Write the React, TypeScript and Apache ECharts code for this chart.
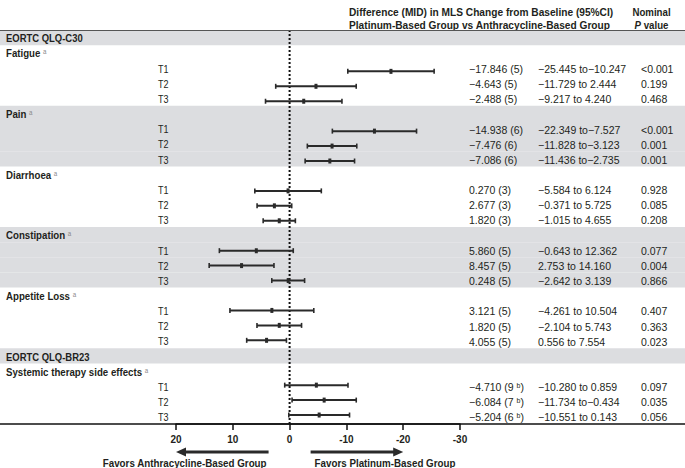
import { useEffect, useRef } from "react";
import * as echarts from "echarts";

const sections = ["EORTC QLQ-C30", "EORTC QLQ-BR23"];
const domains = ["Fatigue", "Pain", "Diarrhoea", "Constipation", "Appetite Loss", "Systemic therapy side effects"];
const domainSection = [0, 0, 0, 0, 0, 1];
const timepoints = ["T1", "T2", "T3"];
const estimates = [
  [-17.846, -4.643, -2.488],
  [-14.938, -7.476, -7.086],
  [0.27, 2.677, 1.82],
  [5.86, 8.457, 0.248],
  [3.121, 1.82, 4.055],
  [-4.71, -6.084, -5.204],
];
const ciLower = [
  [-25.445, -11.729, -9.217],
  [-22.349, -11.828, -11.436],
  [-5.584, -0.371, -1.015],
  [-0.643, 2.753, -2.642],
  [-4.261, -2.104, 0.556],
  [-10.28, -11.734, -10.551],
];
const ciUpper = [
  [-10.247, 2.444, 4.24],
  [-7.527, -3.123, -2.735],
  [6.124, 5.725, 4.655],
  [12.362, 14.16, 3.139],
  [10.504, 5.743, 7.554],
  [0.859, -0.434, 0.143],
];
const mids = [
  [5, 5, 5],
  [6, 6, 6],
  [3, 3, 3],
  [5, 5, 5],
  [5, 5, 5],
  [9, 7, 6],
];
const midFootnote = [false, false, false, false, false, true];
const pValues = [
  ["<0.001", "0.199", "0.468"],
  ["<0.001", "0.001", "0.001"],
  ["0.928", "0.085", "0.208"],
  ["0.077", "0.004", "0.866"],
  ["0.407", "0.363", "0.023"],
  ["0.097", "0.035", "0.056"],
];
const xMin = -30;
const xMax = 20;
const xStep = 10;
const referenceValue = [0];
const arrowSpans = [
  [3.7, 20],
  [-3.7, -20],
];
const arrowLabels = ["Favors Anthracycline-Based Group", "Favors Platinum-Based Group"];
const headerLine1 = "Difference (MID) in MLS Change from Baseline (95%CI)";
const headerLine2 = "Platinum-Based Group vs Anthracycline-Based Group";
const headerP1 = "Nominal";
const headerP2 = "{i|P} value";

type Row = { kind: "section" | "domain" | "time"; label: string; d: number; t: number; block: number };

const rows: Row[] = [];
(() => {
  let block = -1;
  let lastSection = -1;
  domains.forEach((name, d) => {
    if (domainSection[d] !== lastSection) {
      lastSection = domainSection[d];
      block++;
      rows.push({ kind: "section", label: sections[lastSection], d, t: -1, block });
    }
    block++;
    rows.push({ kind: "domain", label: name, d, t: -1, block });
    timepoints.forEach((tp, t) => rows.push({ kind: "time", label: tp, d, t, block }));
  });
})();
const rowIds = rows.map((_, i) => String(i));

const FONT = "'Liberation Sans', Arial, Helvetica, sans-serif";
const INK = "#231f20";
const BAND = "#dcdde0";
const BAR = "#2a2a2a";

const fmt = (v: number) => (v < 0 ? "\u2212" : "") + Math.abs(v).toFixed(3);

const narrowText = (x: number, y: number, text: string, style: any, scale = 0.88) => ({
  type: "text",
  x,
  y,
  scaleX: scale,
  silent: true,
  style: {
    text,
    fill: INK,
    fontFamily: FONT,
    fontSize: 11,
    fontWeight: "bold",
    align: "left",
    verticalAlign: "middle",
    ...style,
  },
});

const plainText = (x: number, y: number, text: string, style: any) => ({
  type: "text",
  x,
  y,
  silent: true,
  style: {
    text,
    fill: INK,
    fontFamily: FONT,
    fontSize: 10.5,
    align: "left",
    verticalAlign: "middle",
    ...style,
  },
});

export default function App() {
  const ref = useRef<HTMLDivElement>(null);
  useEffect(() => {
    document.body.style.margin = "0";
    if (!ref.current) return;
    const chart = echarts.init(ref.current, undefined, { renderer: "svg" });

    const option: any = {
      animation: false,
      grid: [
        { left: 0, right: 0, top: 30, bottom: 44 },
        { left: 176, right: 225, top: 34, bottom: 45.5 },
        { left: 176, right: 225, top: 30, bottom: 44 },
      ],
      xAxis: [
        {
          gridIndex: 0,
          type: "value",
          position: "bottom",
          min: 0,
          max: 1,
          z: 10,
          axisLine: { show: true, lineStyle: { color: "#111", width: 1.5 } },
          axisTick: { show: false },
          axisLabel: { show: false },
          splitLine: { show: false },
        },
        {
          gridIndex: 0,
          type: "value",
          position: "top",
          min: 0,
          max: 1,
          z: 10,
          axisLine: { show: true, lineStyle: { color: "#555", width: 1 } },
          axisTick: { show: false },
          axisLabel: { show: false },
          splitLine: { show: false },
        },
        { gridIndex: 1, type: "value", min: xMin, max: xMax, inverse: true, show: false },
        {
          gridIndex: 2,
          type: "value",
          min: xMin,
          max: xMax,
          interval: xStep,
          inverse: true,
          z: 10,
          axisLine: { show: true, lineStyle: { color: "#111", width: 1.5 } },
          axisTick: { show: true, length: 6, lineStyle: { color: "#111", width: 1.5 } },
          axisLabel: {
            show: true,
            margin: 10,
            color: INK,
            fontSize: 10,
            fontWeight: "bold",
            fontFamily: FONT,
          },
          splitLine: { show: false },
        },
      ],
      yAxis: [
        { gridIndex: 0, type: "category", data: rowIds, inverse: true, show: false },
        { gridIndex: 1, type: "category", data: rowIds, inverse: true, show: false },
        { gridIndex: 2, type: "category", data: rowIds, inverse: true, show: false },
      ],
      graphic: [
        narrowText(349, 12, headerLine1, {}, 0.925),
        narrowText(349, 25, headerLine2, {}, 0.925),
        narrowText(651.5, 12, headerP1, { align: "center" }),
        narrowText(651.5, 25, headerP2, {
          align: "center",
          rich: { i: { fontStyle: "italic", fontSize: 11, fontWeight: "bold", fontFamily: FONT, fill: INK } },
        }),
      ],
      series: [
        {
          type: "custom",
          name: "bands",
          xAxisIndex: 0,
          yAxisIndex: 0,
          z: 1,
          silent: true,
          data: rows.map((r, i) => [0, i, r.block % 2 === 0 ? 1 : 0]),
          encode: { x: 0, y: 1 },
          renderItem: (params: any, api: any) => {
            if (!api.value(2)) return null;
            const cs = params.coordSys;
            const c = api.coord([0, api.value(1)]);
            const h = api.size([0, 1])[1];
            return {
              type: "rect",
              shape: { x: cs.x, y: c[1] - h / 2, width: cs.width, height: h },
              style: { fill: BAND },
            };
          },
        },
        {
          type: "custom",
          name: "texts",
          xAxisIndex: 0,
          yAxisIndex: 0,
          z: 3,
          silent: true,
          data: rows.map((_, i) => [0, i]),
          encode: { x: 0, y: 1 },
          renderItem: (params: any, api: any) => {
            const i = api.value(1);
            const r = rows[i];
            const y = api.coord([0, i])[1] + 1;
            const children: any[] = [];
            if (r.kind === "section") {
              children.push(narrowText(6, y, r.label, {}, 0.86));
            } else if (r.kind === "domain") {
              children.push(
                narrowText(6, y, r.label + " {sup|a}", {
                  rich: { sup: { fontSize: 7, fontFamily: FONT, fill: "#8a8a8a", verticalAlign: "top" } },
                })
              );
            } else {
              const d = r.d;
              const t = r.t;
              children.push(narrowText(158, y, r.label, { fontWeight: "normal" }, 0.82));
              const lo = ciLower[d][t];
              const hi = ciUpper[d][t];
              const est = fmt(estimates[d][t]) + " (" + mids[d][t] + (midFootnote[d] ? " {sup|b}" : "") + ")";
              children.push(
                plainText(469, y, est, {
                  rich: { sup: { fontSize: 7, fontFamily: FONT, fill: INK, verticalAlign: "top" } },
                })
              );
              const ci = fmt(lo) + (hi < 0 ? " to" : " to ") + fmt(hi);
              children.push(plainText(538, y, ci, {}));
              children.push(plainText(641, y, pValues[d][t], {}));
            }
            return { type: "group", children };
          },
        },
        {
          type: "custom",
          name: "estimates",
          xAxisIndex: 2,
          yAxisIndex: 1,
          z: 4,
          silent: true,
          clip: false,
          data: rows
            .map((r, i) => (r.kind === "time" ? [i, estimates[r.d][r.t], ciLower[r.d][r.t], ciUpper[r.d][r.t]] : null))
            .filter((v) => v !== null),
          encode: { x: [1, 2, 3], y: 0 },
          renderItem: (params: any, api: any) => {
            const row = api.value(0);
            const pE = api.coord([api.value(1), row]);
            const pL = api.coord([api.value(2), row]);
            const pH = api.coord([api.value(3), row]);
            const y = pE[1];
            return {
              type: "group",
              children: [
                { type: "line", shape: { x1: pL[0], y1: y, x2: pH[0], y2: y }, style: { stroke: BAR, lineWidth: 2 } },
                { type: "line", shape: { x1: pL[0], y1: y - 2.5, x2: pL[0], y2: y + 2.5 }, style: { stroke: BAR, lineWidth: 1.6 } },
                { type: "line", shape: { x1: pH[0], y1: y - 2.5, x2: pH[0], y2: y + 2.5 }, style: { stroke: BAR, lineWidth: 1.6 } },
                { type: "rect", shape: { x: pE[0] - 1.5, y: y - 2.5, width: 3, height: 5 }, style: { fill: BAR } },
              ],
            };
          },
        },
        {
          type: "custom",
          name: "zero",
          xAxisIndex: 3,
          yAxisIndex: 2,
          z: 3,
          silent: true,
          clip: false,
          data: referenceValue.map((v) => [v, 0]),
          encode: { x: 0, y: 1 },
          renderItem: (params: any, api: any) => {
            const cs = params.coordSys;
            const x = api.coord([api.value(0), 0])[0];
            return {
              type: "line",
              shape: { x1: x, y1: cs.y, x2: x, y2: cs.y + cs.height },
              style: { stroke: "#111", lineWidth: 2, lineDash: [2, 2] },
            };
          },
        },
        {
          type: "custom",
          name: "arrows",
          xAxisIndex: 3,
          yAxisIndex: 2,
          z: 4,
          silent: true,
          clip: false,
          data: arrowSpans.map((s, k) => [s[0], s[1], 0, k]),
          encode: { x: [0, 1], y: 2 },
          renderItem: (params: any, api: any) => {
            const cs = params.coordSys;
            const k = api.value(3);
            const x0 = api.coord([api.value(0), 0])[0];
            const x1 = api.coord([api.value(1), 0])[0];
            const dir = x1 > x0 ? 1 : -1;
            const yA = cs.y + cs.height + 28;
            return {
              type: "group",
              children: [
                { type: "line", shape: { x1: x0, y1: yA, x2: x1 - dir * 8, y2: yA }, style: { stroke: BAR, lineWidth: 3 } },
                {
                  type: "polygon",
                  shape: { points: [[x1, yA], [x1 - dir * 10, yA - 4.5], [x1 - dir * 10, yA + 4.5]] },
                  style: { fill: BAR },
                },
                narrowText(dir < 0 ? x0 - 2 : x0 + 4, yA + 11, arrowLabels[k], { align: dir < 0 ? "right" : "left" }, 0.89),
              ],
            };
          },
        },
      ],
    };

    chart.setOption(option);
    return () => chart.dispose();
  }, []);
  return <div ref={ref} style={{ width: 685, height: 468 }} />;
}
